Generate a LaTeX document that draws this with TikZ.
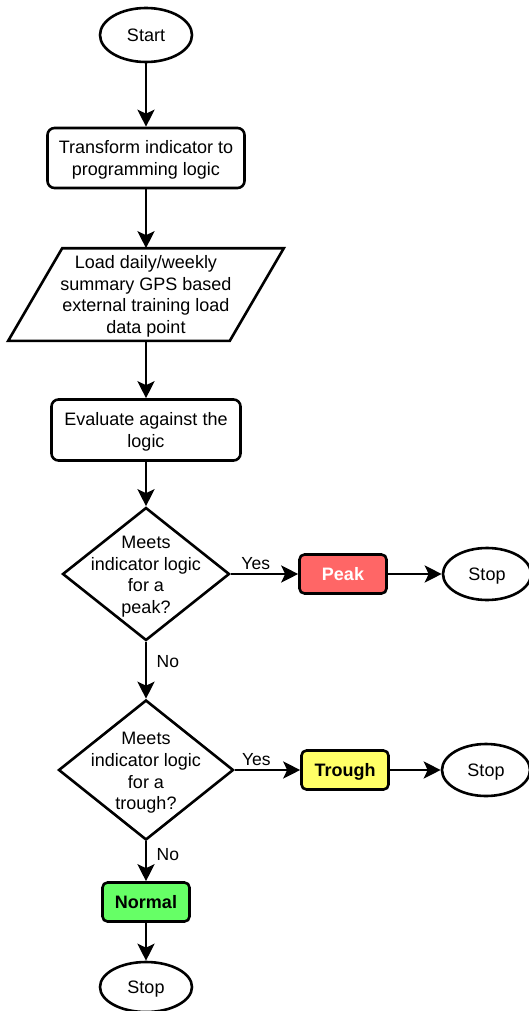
\documentclass[tikz,border=0pt]{standalone}
\usepackage{fontspec}
\setmainfont{Liberation Sans}
\usetikzlibrary{shapes.geometric,arrows.meta}
\definecolor{peakred}{HTML}{FF6666}
\definecolor{troughyellow}{HTML}{FFFF66}
\definecolor{normalgreen}{HTML}{66FF66}

\begin{document}
\begin{tikzpicture}[x=1pt, y=-1pt, line width=2.6pt,
  every node/.style={font=\fontsize{18}{21.6}\selectfont, align=center, text depth=0pt},
  terminal/.style={draw, ellipse, minimum width=92pt, minimum height=54pt, inner sep=0pt},
  process/.style={draw, rounded corners=7pt, minimum height=60pt},
  outcome/.style={draw, rounded corners=5pt, minimum width=87pt, minimum height=39pt, font=\fontsize{18}{21.6}\selectfont\bfseries},
  decision/.style={draw, diamond, inner sep=0pt},
  flow/.style={-{Stealth[length=17pt, width=17pt, inset=4pt]}},
  answer/.style={font=\fontsize{17.5}{21}\selectfont}]
  \useasboundingbox (0,0) rectangle (529,1011);
  % main column
  \node[terminal] (start) at (146,35) {Start};
  \node[process, minimum width=197pt] (transform) at (146,158) {Transform indicator to\\programming logic};
  \node[minimum width=219pt, minimum height=90pt, inner sep=0pt] (load) at (146,294.5) {Load daily/weekly\\summary GPS based\\external training load\\data point};
  \draw ([xshift=-27pt]load.south west) -- ([xshift=27pt]load.north west)
     -- ([xshift=27pt]load.north east) -- ([xshift=-27pt]load.south east) -- cycle;
  \node[process, minimum width=189pt, minimum height=61pt] (evaluate) at (146,430) {Evaluate against the\\logic};
  \node[decision, minimum width=167pt, minimum height=133pt] (peakq) at (146,574) {};
  \node (peakqtext) at (146,575) {Meets\\indicator logic\\for a\\peak?};
  \node[decision, minimum width=175pt, minimum height=140pt] (troughq) at (146,770) {};
  \node (troughqtext) at (146,771) {Meets\\indicator logic\\for a\\trough?};
  \node[outcome, fill=normalgreen] (normal) at (146,902) {Normal};
  \node[terminal, minimum height=50pt] (stopnormal) at (146,987) {Stop};
  % outcomes on the right
  \node[outcome, fill=peakred, text=white] (peak) at (343,574) {Peak};
  \node[terminal, minimum width=88pt, minimum height=52pt] (stoppeak) at (487,574) {Stop};
  \node[outcome, fill=troughyellow] (trough) at (345,770) {Trough};
  \node[terminal, minimum width=88pt, minimum height=52pt] (stoptrough) at (486,770) {Stop};
  % connectors
  \draw[flow] (start) -- (transform);
  \draw[flow] (transform) -- (load);
  \draw[flow] (load) -- (evaluate);
  \draw[flow] (evaluate) -- (peakq);
  \draw[flow] (peakq) -- node[answer, above, pos=0.37] {Yes} (peak);
  \draw[flow] (peak) -- (stoppeak);
  \draw[flow] (peakq) -- node[answer, right=6pt, pos=0.35] {No} (troughq);
  \draw[flow] (troughq) -- node[answer, above, pos=0.33] {Yes} (trough);
  \draw[flow] (trough) -- (stoptrough);
  \draw[flow] (troughq) -- node[answer, right=6pt, pos=0.33] {No} (normal);
  \draw[flow] (normal) -- (stopnormal);
\end{tikzpicture}
\end{document}
